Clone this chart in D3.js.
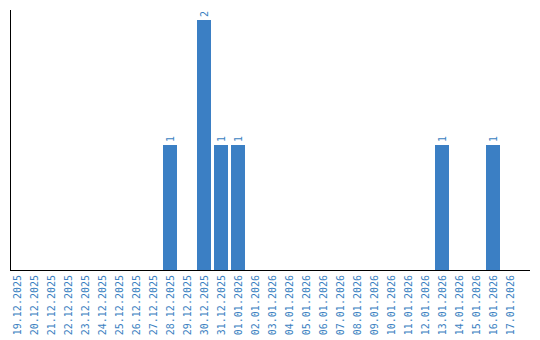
<!DOCTYPE html>
<html>
<head>
<meta charset="utf-8">
<script src="https://cdn.jsdelivr.net/npm/d3@7"></script>
<style>
  body { margin: 0; background: #fff; }
  text { font-family: "DejaVu Sans Mono", monospace; font-size: 10px; fill: #3a7fc1; }
</style>
</head>
<body>
<div id="chart"></div>
<script>
// Dates on the x axis
var dates = [
  "19.12.2025", "20.12.2025", "21.12.2025", "22.12.2025", "23.12.2025",
  "24.12.2025", "25.12.2025", "26.12.2025", "27.12.2025", "28.12.2025",
  "29.12.2025", "30.12.2025", "31.12.2025", "01.01.2026", "02.01.2026",
  "03.01.2026", "04.01.2026", "05.01.2026", "06.01.2026", "07.01.2026",
  "08.01.2026", "09.01.2026", "10.01.2026", "11.01.2026", "12.01.2026",
  "13.01.2026", "14.01.2026", "15.01.2026", "16.01.2026", "17.01.2026"
];

// Count for each date
var counts = [
  0, 0, 0, 0, 0, 0, 0, 0, 0, 1,
  0, 2, 1, 1, 0, 0, 0, 0, 0, 0,
  0, 0, 0, 0, 0, 1, 0, 0, 1, 0
];

var svgWidth = 540;
var svgHeight = 340;

// Chart area (note: "top" is taken by window.top)
var margin = { left: 10, top: 10 };
var axisRight = 530;
var baseline = 270;

var svg = d3
  .select("#chart")
  .append("svg")
  .attr("width", svgWidth)
  .attr("height", svgHeight);

// Band scale for the dates
var x = d3.scaleBand()
  .domain(dates)
  .range([margin.left, 517])
  .paddingInner(3 / 17)
  .paddingOuter(0);

// Linear scale for the counts, with a little headroom
var yMax = d3.max(counts) * 1.04;
var y = d3.scaleLinear()
  .domain([0, yMax])
  .range([baseline, margin.top]);

var data = dates.map((d, i) => ({ date: d, value: counts[i] }));

// Draw the bars
svg.append("g")
  .selectAll("rect")
  .data(data.filter((d) => d.value > 0))
  .enter()
  .append("rect")
  .attr("x", (d) => x(d.date))
  .attr("y", (d) => y(d.value))
  .attr("width", x.bandwidth())
  .attr("height", (d) => baseline - y(d.value))
  .attr("fill", "#3b7fc4");

// Value labels above the bars
svg.append("g")
  .selectAll("text")
  .data(data.filter((d) => d.value > 0))
  .enter()
  .append("text")
  .attr("transform", (d) => `translate(${x(d.date) + x.bandwidth() / 2}, ${y(d.value) - 3}) rotate(-90)`)
  .attr("dy", "0.35em")
  .attr("text-anchor", "start")
  .text((d) => d.value);

// Axis lines
svg.append("line")
  .attr("x1", margin.left + 0.5)
  .attr("x2", margin.left + 0.5)
  .attr("y1", margin.top)
  .attr("y2", baseline)
  .attr("stroke", "#000");

svg.append("line")
  .attr("x1", margin.left)
  .attr("x2", axisRight)
  .attr("y1", baseline + 0.5)
  .attr("y2", baseline + 0.5)
  .attr("stroke", "#000");

// Date labels below the axis
svg.append("g")
  .selectAll("text")
  .data(dates)
  .enter()
  .append("text")
  .attr("transform", (d) => `translate(${x(d) + x.bandwidth() / 2}, ${baseline + 5}) rotate(-90)`)
  .attr("dy", "0.35em")
  .attr("text-anchor", "end")
  .text((d) => d);
</script>
</body>
</html>
